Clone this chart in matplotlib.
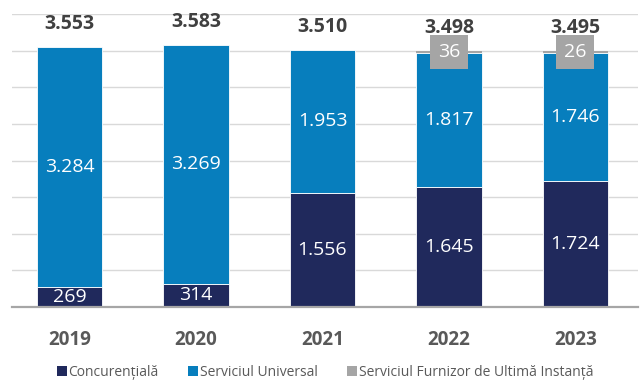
import matplotlib
matplotlib.use("Agg")
import matplotlib.pyplot as plt
from matplotlib.patches import Patch
import numpy as np

years = ["2019", "2020", "2021", "2022", "2023"]
concurentiala = [269, 314, 1556, 1645, 1724]
serviciu_universal = [3284, 3269, 1953, 1817, 1746]
sfui = [0, 0, 0, 36, 26]
totals = [3553, 3583, 3510, 3498, 3495]

series_names = ["Concurențială", "Serviciul Universal",
                "Serviciul Furnizor de Ultimă Instanță"]
colors = ["#20295C", "#077EBD", "#A5A5A5"]

plt.rcParams["font.family"] = ["Open Sans", "DejaVu Sans"]


def fmt(v):
    return f"{v:,}".replace(",", ".")


fig = plt.figure(figsize=(6.41, 3.83), dpi=100)
ax = fig.add_axes([12 / 641, 76 / 383, 626 / 641, 293 / 383])

x = np.arange(len(years))
width = 0.52

ax.bar(x, concurentiala, width, color=colors[0], edgecolor="white",
       linewidth=0.6, zorder=3)
ax.bar(x, serviciu_universal, width, bottom=concurentiala,
       color=colors[1], edgecolor="white", linewidth=0.6, zorder=3)
bottom3 = np.array(concurentiala) + np.array(serviciu_universal)
ax.bar(x, sfui, width, bottom=bottom3, color=colors[2],
       edgecolor="none", zorder=3)

label_font = dict(color="white", fontsize=14, ha="center", va="center",
                  zorder=5)
for i in range(len(years)):
    ax.text(x[i], concurentiala[i] / 2, fmt(concurentiala[i]), **label_font)
    ax.text(x[i], concurentiala[i] + serviciu_universal[i] / 2,
            fmt(serviciu_universal[i]), **label_font)
    if sfui[i] > 0:
        ax.text(x[i], bottom3[i] + sfui[i] / 2, fmt(sfui[i]),
                bbox=dict(boxstyle="square,pad=0.4", facecolor=colors[2],
                          edgecolor="none"),
                **label_font)
    top = bottom3[i] + sfui[i]
    ax.annotate(fmt(totals[i]), xy=(x[i], top), xytext=(0, 16.5),
                textcoords="offset points", ha="center", va="center",
                fontsize=14, fontweight="bold", color="#404040", zorder=5)

ax.set_ylim(0, 4000)
ax.set_xlim(-0.455, 4.495)
ax.set_yticks(np.arange(0, 4001, 500))
ax.yaxis.grid(True, color="#D9D9D9", linewidth=1.0, zorder=0)
ax.tick_params(axis="y", left=False, labelleft=False)
ax.tick_params(axis="x", bottom=False, pad=13)
ax.set_xticks(x)
ax.set_xticklabels(years, fontsize=13.5, fontweight="bold", color="#595959")
for side in ["left", "right", "top"]:
    ax.spines[side].set_visible(False)
ax.spines["bottom"].set_color("#A6A6A6")
ax.spines["bottom"].set_linewidth(1.6)
ax.spines["bottom"].set_zorder(4)

handles = [Patch(facecolor=c, edgecolor="none") for c in colors]
fig.legend(handles, series_names, loc="center",
           bbox_to_anchor=(325 / 641, 1 - 372 / 383), ncol=3, frameon=False,
           fontsize=10, labelcolor="#595959", handlelength=0.7,
           handleheight=0.7, handletextpad=0.15, columnspacing=2.1)

fig.savefig("out.png", dpi=100)
